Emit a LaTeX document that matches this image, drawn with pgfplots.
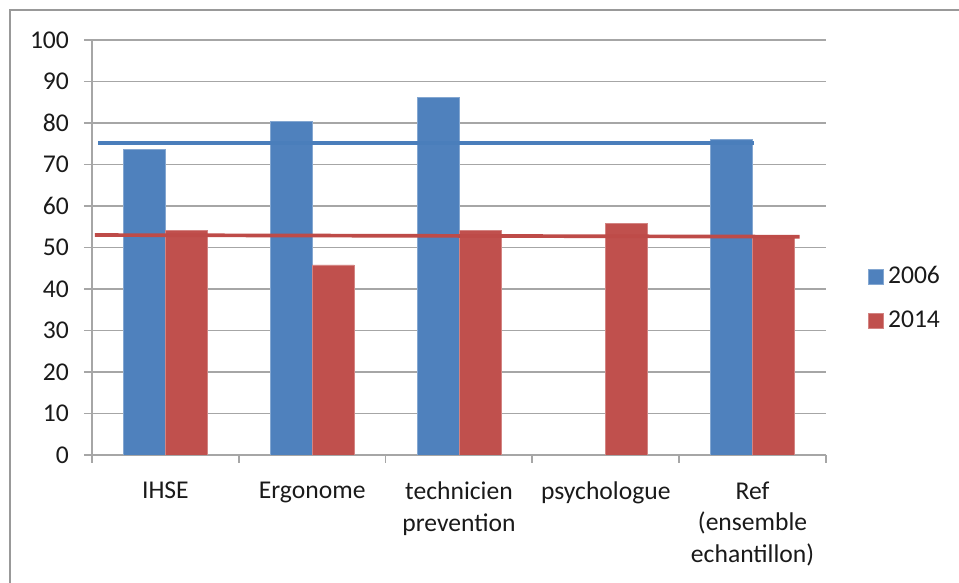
\documentclass[border=0pt]{standalone}
\usepackage{fontspec}
\setmainfont{Carlito}
\usepackage{pgfplots}
\pgfplotsset{compat=1.18}

\definecolor{barblue}{HTML}{4F81BD}
\definecolor{barred}{HTML}{C0504D}
\definecolor{lineblue}{HTML}{4A7EBB}
\definecolor{linered}{HTML}{BE4B48}
\definecolor{gridgray}{HTML}{A6A6A6}
\definecolor{txt}{HTML}{1A1A1A}

\newcommand{\lbl}{\fontsize{12.8}{15.6}\selectfont}

\begin{document}
\begin{tikzpicture}[x=1pt,y=1pt]
\useasboundingbox (0,0) rectangle (479.5,291.5);
% cadre du graphique
\draw[draw=gray!80, line width=1pt] (4.75,-20) -- (4.75,286.5) -- (520,286.5);
\begin{axis}[
    at={(46pt,64pt)}, anchor=south west,
    width=367pt, height=207.5pt, scale only axis,
    xmin=-0.5, xmax=4.5,
    ymin=0, ymax=100,
    ytick={0,10,...,100},
    xtick={0,1,2,3,4},
    xticklabels={IHSE, Ergonome, technicien\\prevention, psychologue, Ref\\(ensemble\\echantillon)},
    minor xtick={-0.5,0.5,...,4.5},
    every major x tick/.append style={draw=none},
    tick align=outside,
    major tick length=4pt, minor tick length=4pt,
    tick style={gridgray, line width=0.9pt},
    axis x line*=bottom, axis y line*=left,
    axis line style={gridgray, line width=0.9pt, -},
    ymajorgrids, grid style={gridgray, line width=0.9pt},
    /pgf/number format/assume math mode=true,
    ticklabel style={font=\lbl, text=txt},
    xticklabel style={align=center, anchor=north, yshift=-6pt},
    yticklabel style={xshift=-4pt},
    legend style={at={(rel axis cs:1.057,0.377)}, anchor=west, draw=none, fill=none,
        font=\lbl, text=txt, row sep=8pt, inner sep=0pt},
    legend cell align=left,
    legend image code/.code={\fill[#1] (0pt,-3.75pt) rectangle (7.5pt,3.75pt);},
]
\addplot[ybar, bar width=0.2857, bar shift=-0.14286, fill=barblue, draw=barblue!70!white, line width=0.4pt]
    coordinates {(0,73.6) (1,80.3) (2,86.1) (4,76.0)};
\addlegendentry{2006}
\addplot[ybar, bar width=0.2857, bar shift=0.14286, fill=barred, draw=barred!70!white, line width=0.4pt]
    coordinates {(0,54.1) (1,45.8) (2,54.1) (3,55.7) (4,52.7)};
\addlegendentry{2014}
% lignes de reference
\addplot[forget plot, sharp plot, no marks, lineblue, line width=1.85pt]
    coordinates {(-0.457,75.1) (4.012,75.1)};
\addplot[forget plot, sharp plot, no marks, linered, line width=1.85pt]
    coordinates {(-0.48,53.0) (4.32,52.6)};
\end{axis}
\end{tikzpicture}
\end{document}
